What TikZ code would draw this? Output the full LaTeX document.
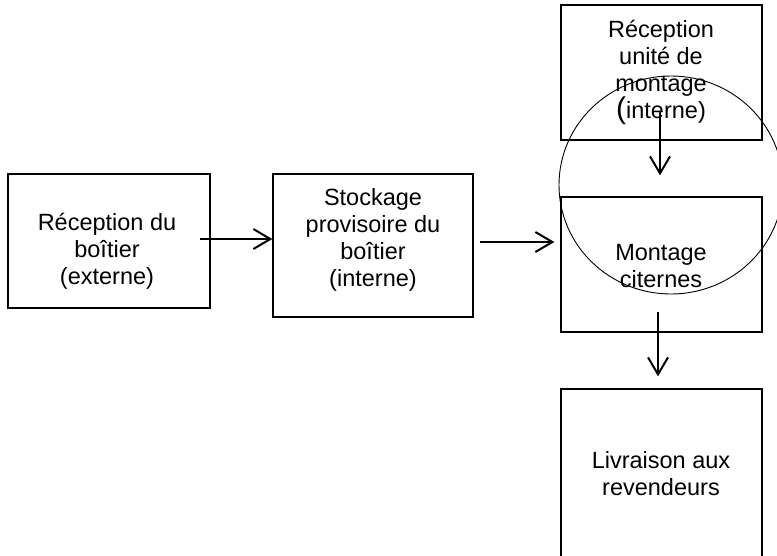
\documentclass[tikz,border=0pt]{standalone}
\usepackage{fontspec}
\setmainfont{Liberation Sans}
\usetikzlibrary{arrows.meta,calc}
\tikzset{
  box/.style={draw=black, line width=1.3pt, rectangle, inner sep=0pt},
  lbl/.style={font=\fontsize{23.5}{27}\selectfont, align=center, inner sep=0pt, text=black},
  arr/.style={line width=2pt, -{Straight Barb[length=17pt,width=20pt,line width=2pt]}},
  ring/.style={draw=black, line width=0.9pt}
}
\begin{document}
\begin{tikzpicture}[x=1pt,y=-1pt]
\useasboundingbox (0,0) rectangle (777,555);
\clip (0,0) rectangle (777,555);
% boxes
\node[box, minimum width=202pt, minimum height=134pt] (b1) at (109,241) {};
\node[box, minimum width=200pt, minimum height=143pt] (b2) at (373,245.5) {};
\node[box, minimum width=201pt, minimum height=135pt] (b3) at (661.5,72.5) {};
\node[box, minimum width=201pt, minimum height=135pt] (b4) at (661.5,264.5) {};
\node[box, minimum width=201pt, minimum height=181pt] (b5) at (661.5,479.5) {};
% texts
\node[lbl] (t1) at (107,251.6) {\strut Réception du\\\strut boîtier\\\strut (externe)};
\node[lbl] (t2) at (373,240.1) {\strut Stockage\\\strut provisoire du\\\strut boîtier\\\strut (interne)};
\node[lbl] (t3) at (661,72.1) {\strut Réception\\\strut unité de\\\strut montage\\\strut \smash{\fontsize{30}{27}\selectfont(}interne)};
\node[lbl] (t4) at (661,268.1) {\strut Montage\\\strut citernes};
\node[lbl] (t5) at (661,476.1) {\strut Livraison aux\\\strut revendeurs};
% circle
\draw[ring] (671,185) ellipse [x radius=112pt, y radius=109pt];
% connectors
\coordinate (a1s) at (200,239);
\coordinate (a2s) at (480,242);
\coordinate (a3s) at (660,111);
\coordinate (a4s) at (658,312);
\coordinate (a2e) at ($(b4.west |- a2s)+(-6,0)$);
\coordinate (a3e) at ($(b4.north -| a3s)+(0,-21)$);
\coordinate (a4e) at ($(b5.north -| a4s)+(0,-12)$);
\draw[arr] (a1s) -- (b2.west |- a1s);
\draw[arr] (a2s) -- (a2e);
\draw[arr] (a3s) -- (a3e);
\draw[arr] (a4s) -- (a4e);
\end{tikzpicture}
\end{document}
